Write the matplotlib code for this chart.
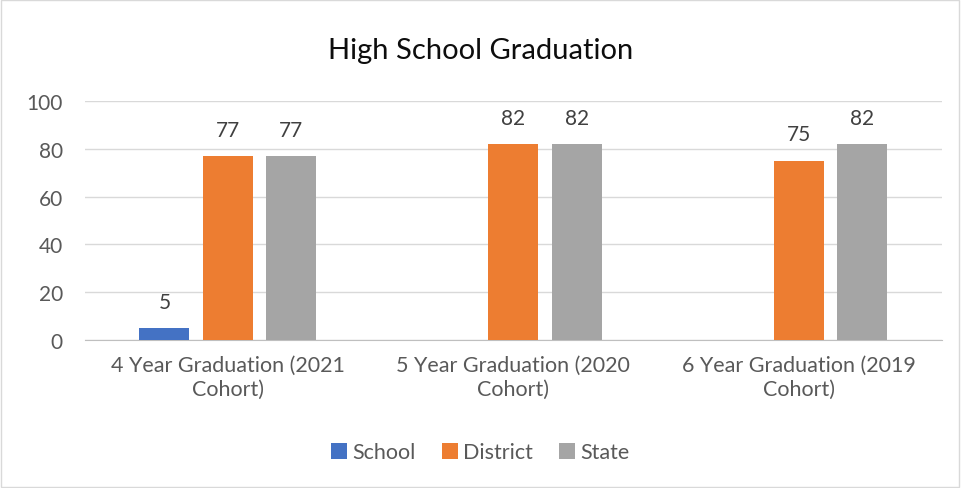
import matplotlib
matplotlib.use("Agg")
import matplotlib.pyplot as plt
import numpy as np
from matplotlib.patches import Rectangle

categories = ["4 Year Graduation (2021\nCohort)", "5 Year Graduation (2020\nCohort)", "6 Year Graduation (2019\nCohort)"]
series_names = ["School", "District", "State"]
school = [5, None, None]
district = [77, 82, 75]
state = [77, 82, 82]
colors = ["#4472C4", "#ED7D31", "#A5A5A5"]

plt.rcParams["font.family"] = ["Lato", "DejaVu Sans"]

fig = plt.figure(figsize=(9.61, 4.89), dpi=100)
fig.patches.append(Rectangle((0.001, 0.002), 0.997, 0.996, transform=fig.transFigure,
                             fill=False, edgecolor="#D9D9D9", linewidth=1))
ax = fig.add_axes([0.0885, 0.3027, 0.8915, 0.4887])

x = np.arange(len(categories))
width = 0.175
step = 0.222
for i, (name, vals, c) in enumerate(zip(series_names, [school, district, state], colors)):
    xs = [xi + (i - 1) * step for xi, v in zip(x, vals) if v is not None]
    vs = [v for v in vals if v is not None]
    bars = ax.bar(xs, vs, width, color=c, label=name, zorder=3)
    for b, v in zip(bars, vs):
        ax.annotate(str(v), (b.get_x() + b.get_width() / 2, v), xytext=(0, 19),
                    textcoords="offset points", ha="center", va="center",
                    fontsize=15, color="#404040")

ax.set_xlim(-0.5, 2.5)
ax.set_ylim(0, 100)
ax.set_yticks(range(0, 101, 20))
ax.set_xticks(x)
ax.set_xticklabels(categories, fontsize=15.5, color="#595959", linespacing=1.2)
ax.tick_params(axis="y", labelsize=15, labelcolor="#595959", length=0, pad=16)
ax.tick_params(axis="x", length=0, pad=11)
ax.grid(axis="y", color="#D9D9D9", linewidth=1, zorder=0)
for s in ["top", "right", "left"]:
    ax.spines[s].set_visible(False)
ax.spines["bottom"].set_color("#BFBFBF")

fig.text(0.5, 0.895, "High School Graduation", ha="center", va="center", fontsize=21, color="#0D0D0D")
fig.legend(loc="center", bbox_to_anchor=(0.5, 0.073), ncol=3, frameon=False, fontsize=15.5,
           handlelength=0.75, handleheight=0.75, handletextpad=0.25, columnspacing=1.2,
           labelcolor="#595959")

fig.savefig("out.png", dpi=100)
